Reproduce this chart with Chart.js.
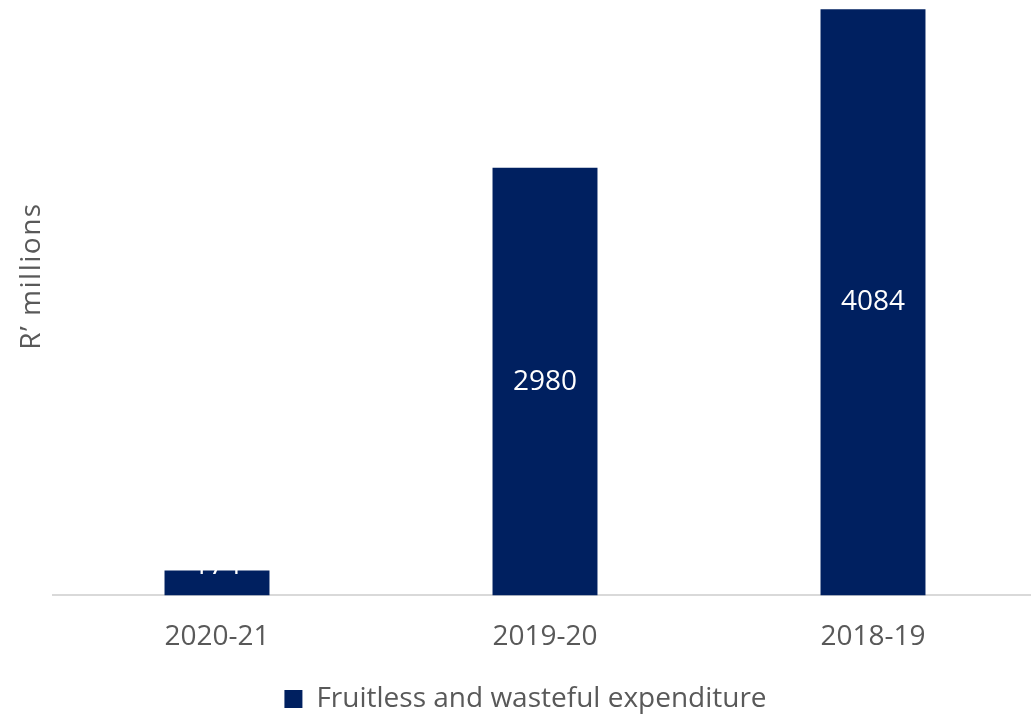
<!DOCTYPE html>
<html>
<head>
<meta charset="utf-8">
<script src="https://cdn.jsdelivr.net/npm/chart.js@4"></script>
<style>
  html, body { margin: 0; padding: 0; background: #fff; overflow: hidden; }
  #wrap { width: 1040px; height: 714px; position: relative; }
</style>
</head>
<body>
<div id="wrap"><canvas id="chartCanvas"></canvas></div>
<script>
// --- data ---
const years = ["2020-21", "2019-20", "2018-19"];
const expenditure = [174, 2980, 4084];
const seriesName = "Fruitless and wasteful expenditure";
const axisTitle = "R\u2019 millions";

const textGray = "#595959";
const barBlue = "#002060";
const fontFamily = "'Open Sans', 'DejaVu Sans', sans-serif";

// white value labels in the middle of each bar
const valueLabels = {
  id: "valueLabels",
  afterDatasetsDraw(chart) {
    const { ctx } = chart;
    const meta = chart.getDatasetMeta(0);
    const base = chart.scales.y.getPixelForValue(0);
    ctx.save();
    ctx.font = `28px ${fontFamily}`;
    ctx.fillStyle = "#ffffff";
    ctx.textAlign = "center";
    ctx.textBaseline = "middle";
    meta.data.forEach((bar, i) => {
      // short bars: label gets pushed up so it doesn't sit on the axis
      const y = Math.min((bar.y + base) / 2, base - 29);
      ctx.fillText(String(expenditure[i]), bar.x, y);
    });
    ctx.restore();
  }
};

// rotated y axis title
const yTitle = {
  id: "yTitle",
  afterDraw(chart) {
    const { ctx } = chart;
    ctx.save();
    ctx.translate(32, 276);
    ctx.rotate(-Math.PI / 2);
    ctx.font = `28px ${fontFamily}`;
    ctx.letterSpacing = "1.5px";
    ctx.fillStyle = textGray;
    ctx.textAlign = "center";
    ctx.textBaseline = "middle";
    ctx.fillText(axisTitle, 0, 0);
    ctx.restore();
  }
};

const canvas = document.getElementById("chartCanvas");

new Chart(canvas, {
  type: "bar",
  data: {
    labels: years,
    datasets: [{
      label: seriesName,
      data: expenditure,
      backgroundColor: barBlue,
      borderWidth: 0,
      barPercentage: 0.32,
      categoryPercentage: 1
    }]
  },
  options: {
    responsive: true,
    maintainAspectRatio: false,
    animation: false,
    layout: { padding: { top: 7, right: 3, left: 14, bottom: -9 } },
    plugins: {
      tooltip: { enabled: false },
      legend: {
        position: "bottom",
        labels: {
          boxWidth: 18,
          boxHeight: 18,
          color: textGray,
          font: { family: fontFamily, size: 28 },
          padding: 6
        }
      }
    },
    scales: {
      x: {
        grid: { display: false, drawTicks: false },
        border: { display: true, color: "#d9d9d9", width: 2 },
        ticks: {
          color: textGray,
          font: { family: fontFamily, size: 28 },
          padding: 25
        }
      },
      y: {
        min: 0,
        max: 4100,
        grid: { display: false, drawTicks: false },
        border: { display: false },
        ticks: { display: false },
        afterFit(scale) { scale.width = 39; }
      }
    }
  },
  plugins: [valueLabels, yTitle]
});
</script>
</body>
</html>
